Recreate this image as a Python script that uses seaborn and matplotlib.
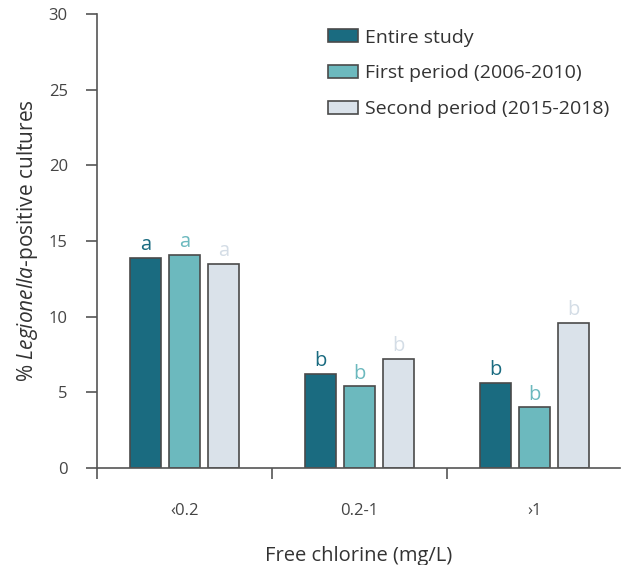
import matplotlib
matplotlib.use("Agg")
import matplotlib.pyplot as plt
import seaborn as sns
import pandas as pd
from matplotlib.ticker import FixedLocator

categories = ["<0.2", "0.2-1", ">1"]
tick_labels = ["\u20390.2", "0.2-1", "\u203a1"]
series_names = ["Entire study", "First period (2006-2010)", "Second period (2015-2018)"]
entire = [13.9, 6.2, 5.6]
first = [14.1, 5.4, 4.0]
second = [13.5, 7.2, 9.6]
letters_entire = ["a", "b", "b"]
letters_first = ["a", "b", "b"]
letters_second = ["a", "b", "b"]

colors = ["#1a6b80", "#6cb9be", "#dae2ea"]
letter_colors = ["#1a6b80", "#6cb9be", "#d4dde6"]

sns.set_theme(style="white")
plt.rcParams['font.family'] = ['Open Sans', 'DejaVu Sans']
plt.rcParams['mathtext.fontset'] = 'custom'
plt.rcParams['mathtext.rm'] = 'Open Sans'
plt.rcParams['mathtext.it'] = 'Open Sans:italic'

rows = []
for name, vals in zip(series_names, [entire, first, second]):
    for c, v in zip(categories, vals):
        rows.append({"cat": c, "series": name, "value": v})
df = pd.DataFrame(rows)

fig = plt.figure(figsize=(6.22, 5.65), dpi=100)
ax = fig.add_axes([97/622, 1-468/565, (620-97)/622, (468-14)/565])

sns.barplot(data=df, x="cat", y="value", hue="series", order=categories,
            hue_order=series_names, palette=colors, saturation=1, width=0.67, gap=0.2,
            edgecolor="#4a4a4a", linewidth=1.2, ax=ax, legend=True)

for cont, letters, lc in zip(ax.containers, [letters_entire, letters_first, letters_second], letter_colors):
    for bar, lt in zip(cont, letters):
        ax.annotate(lt, (bar.get_x() + bar.get_width()/2, bar.get_height()),
                    xytext=(0, 2), textcoords="offset points", ha="center", va="bottom",
                    color=lc, fontsize=14.5)

ax.set_xlim(-0.5, 2.49)
ax.set_ylim(0, 30)
ax.set_yticks(range(0, 31, 5))
ax.set_xticks(range(len(categories)))
ax.set_xticklabels(tick_labels)
ax.xaxis.set_minor_locator(FixedLocator([-0.5, 0.5, 1.5]))
ax.tick_params(axis="x", which="major", length=0, pad=25, labelsize=12, colors="#444444")
ax.tick_params(axis="x", which="minor", length=8, width=1.2, color="#555555", direction="out", bottom=True)
ax.tick_params(axis="y", length=8, width=1.2, color="#555555", direction="out", left=True, labelsize=12, labelcolor="#444444", pad=13)

for s in ["top", "right"]:
    ax.spines[s].set_visible(False)
for s in ["left", "bottom"]:
    ax.spines[s].set_color("#555555")
    ax.spines[s].set_linewidth(1.2)

ax.set_xlabel("Free chlorine (mg/L)", fontsize=14.5, color="#333333", labelpad=20)
ax.set_ylabel(r"% $\it{Legionella}$-positive cultures", fontsize=15, color="#333333", labelpad=6)

leg = ax.legend(loc="upper left", bbox_to_anchor=(0.442, 0.968), frameon=False, fontsize=14,
                borderaxespad=0, borderpad=0,
                handlelength=1.55, handleheight=0.65, labelspacing=0.92, handletextpad=0.35)
for t in leg.get_texts():
    t.set_color("#333333")

fig.savefig("out.png", dpi=100)
